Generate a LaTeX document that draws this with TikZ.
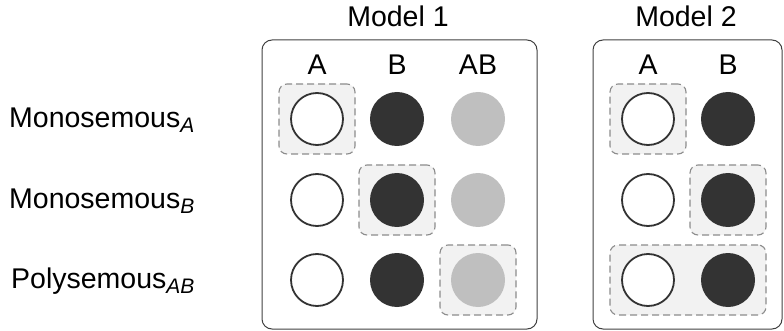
\documentclass[tikz,border=0pt]{standalone}
\usepackage{fontspec}
\setmainfont{Liberation Sans}
\begin{document}
\begin{tikzpicture}[x=1pt,y=-1pt,
  txt/.style={font=\fontsize{28.5}{30}\selectfont, inner sep=0pt, anchor=base},
  rowlab/.style={font=\fontsize{28.5}{30}\selectfont, inner sep=0pt, anchor=base west},
  modelbox/.style={draw=black!75, line width=1pt, rounded corners=10pt},
  hl/.style={draw=black!45, fill=black!5, dash pattern=on 7pt off 4pt, line width=1.1pt, rounded corners=8pt, minimum width=76pt, minimum height=70pt, inner sep=0pt},
  hlwide/.style={hl, minimum width=156pt},
  ca/.style={circle, draw=black!80, fill=white, line width=1.8pt, minimum size=52pt, inner sep=0pt},
  cb/.style={circle, fill=black!80, minimum size=54pt, inner sep=0pt},
  cab/.style={circle, fill=black!25, minimum size=54pt, inner sep=0pt}]
\newcommand{\sbs}[1]{\raisebox{-5pt}{\fontsize{21}{21}\selectfont\itshape #1}}
\useasboundingbox (0,0) rectangle (784,331);
% model boxes
\draw[modelbox] (262,40) rectangle (537,329);
\draw[modelbox] (593,40) rectangle (782,329);
\node[txt] (m1) at (398,27) {Model 1};
\node[txt] (m2) at (686,27) {Model 2};
% headers
\node[txt] (h1a) at (317,75) {A};
\node[txt] (h1b) at (397,75) {B};
\node[txt] (h1ab) at (478,75) {AB};
\node[txt] (h2a) at (648,75) {A};
\node[txt] (h2b) at (728,75) {B};
% row labels
\node[rowlab] (r1) at (9,128) {Monosemous\sbs{A}};
\node[rowlab] (r2) at (9,208) {Monosemous\sbs{B}};
\node[rowlab] (r3) at (11,288) {Polysemous\sbs{AB}};
% highlights
\node[hl] (g1) at (317,119) {};
\node[hl] (g2) at (397,200) {};
\node[hl] (g3) at (478,280) {};
\node[hl] (g4) at (648,119) {};
\node[hl] (g5) at (728,200) {};
\node[hlwide] (g6) at (688,280) {};
% model 1 circles
\node[ca] (a11) at (317,119) {};
\node[cb] (b11) at (397,119) {};
\node[cab] (ab11) at (478,119) {};
\node[ca] (a12) at (317,200) {};
\node[cb] (b12) at (397,200) {};
\node[cab] (ab12) at (478,200) {};
\node[ca] (a13) at (317,280) {};
\node[cb] (b13) at (397,280) {};
\node[cab] (ab13) at (478,280) {};
% model 2 circles
\node[ca] (a21) at (648,119) {};
\node[cb] (b21) at (728,119) {};
\node[ca] (a22) at (648,200) {};
\node[cb] (b22) at (728,200) {};
\node[ca] (a23) at (648,280) {};
\node[cb] (b23) at (728,280) {};
\end{tikzpicture}
\end{document}
